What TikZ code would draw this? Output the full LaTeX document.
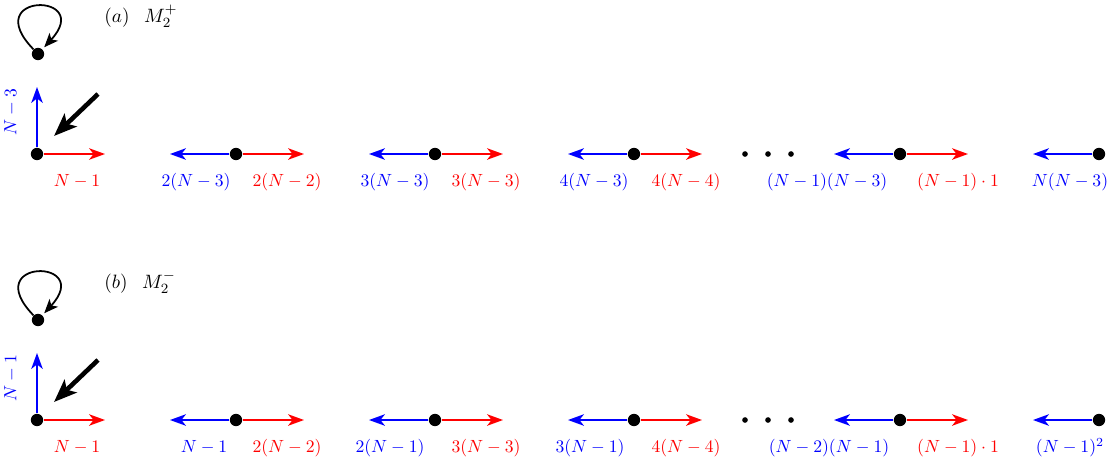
\documentclass[tikz,border=0pt]{standalone}
\usetikzlibrary{arrows.meta}
\begin{document}
\begin{tikzpicture}[x=0.567pt,y=-0.567pt,
  dot/.style={circle,fill=black,inner sep=0pt,minimum size=7pt},
  sdot/.style={circle,fill=black,inner sep=0pt,minimum size=3.2pt},
  rarr/.style={red,line width=1.1pt,-{Stealth[length=9pt,width=6.5pt,inset=2.5pt]}},
  barr/.style={blue,line width=1.1pt,-{Stealth[length=9pt,width=6.5pt,inset=2.5pt]}},
  bigarr/.style={line width=2.6pt,-{Stealth[length=13pt,width=10pt,inset=3pt]}},
  looparr/.style={line width=1pt,shorten >=1.5pt,-{Stealth[length=8pt,width=6.5pt,inset=2pt]}},
  lab/.style={inner sep=0pt,text height=7.5pt,text depth=2.5pt},
  rlab/.style={lab,red},
  blab/.style={lab,blue},
  ttl/.style={inner sep=0pt,anchor=base west,font=\fontsize{11}{13}\selectfont}]
\useasboundingbox (0,0) rectangle (1112,464);

% ---------- row (a) ----------
\node[ttl] (ta) at (104,22) {$(a)\hspace{0.75em}M_2^+$};
\node[dot] (aL) at (38,54) {};
\draw[looparr] (aL) .. controls (-22,-8) and (95,-8) .. (aL);
\coordinate (aBs) at (98,94);
\coordinate (aBt) at (54,136);
\draw[bigarr] (aBs) -- (aBt);

\node[dot] (a0) at (37,154) {};
\coordinate (a0r) at (105,154);
\coordinate (a0u) at (37,87);
\draw[rarr] (a0) -- (a0r);
\draw[barr] (a0) -- (a0u);
\node[blab,rotate=90] (a0ul) at (12,112) {$N-3$};

\node[dot] (a1) at (236,154) {};
\coordinate (a1l) at (170,154);
\coordinate (a1r) at (304,154);
\draw[barr] (a1) -- (a1l);
\draw[rarr] (a1) -- (a1r);

\node[dot] (a2) at (435,154) {};
\coordinate (a2l) at (369,154);
\coordinate (a2r) at (503,154);
\draw[barr] (a2) -- (a2l);
\draw[rarr] (a2) -- (a2r);

\node[dot] (a3) at (634,154) {};
\coordinate (a3l) at (568,154);
\coordinate (a3r) at (702,154);
\draw[barr] (a3) -- (a3l);
\draw[rarr] (a3) -- (a3r);

\node[sdot] (ae1) at (745,154) {};
\node[sdot] (ae2) at (768,154) {};
\node[sdot] (ae3) at (791,154) {};

\node[dot] (a4) at (900,154) {};
\coordinate (a4l) at (834,154);
\coordinate (a4r) at (968,154);
\draw[barr] (a4) -- (a4l);
\draw[rarr] (a4) -- (a4r);

\node[dot] (a5) at (1099,154) {};
\coordinate (a5l) at (1033,154);
\draw[barr] (a5) -- (a5l);

\node[rlab] (la0) at (77,182) {$N-1$};
\node[blab] (la1) at (196,182) {$2(N-3)$};
\node[rlab] (la2) at (287,182) {$2(N-2)$};
\node[blab] (la3) at (395,182) {$3(N-3)$};
\node[rlab] (la4) at (486,182) {$3(N-3)$};
\node[blab] (la5) at (594,182) {$4(N-3)$};
\node[rlab] (la6) at (686,182) {$4(N-4)$};
\node[blab] (la7) at (827,182) {$(N-1)(N-3)$};
\node[rlab] (la8) at (958,182) {$(N-1)\cdot 1$};
\node[blab] (la9) at (1070,182) {$N(N-3)$};

% ---------- row (b) ----------
\node[ttl] (tb) at (104,288) {$(b)\hspace{0.75em}M_2^-$};
\node[dot] (bL) at (38,320) {};
\draw[looparr] (bL) .. controls (-22,258) and (95,258) .. (bL);
\coordinate (bBs) at (98,360);
\coordinate (bBt) at (54,402);
\draw[bigarr] (bBs) -- (bBt);

\node[dot] (b0) at (37,420) {};
\coordinate (b0r) at (105,420);
\coordinate (b0u) at (37,353);
\draw[rarr] (b0) -- (b0r);
\draw[barr] (b0) -- (b0u);
\node[blab,rotate=90] (b0ul) at (12,378) {$N-1$};

\node[dot] (b1) at (236,420) {};
\coordinate (b1l) at (170,420);
\coordinate (b1r) at (304,420);
\draw[barr] (b1) -- (b1l);
\draw[rarr] (b1) -- (b1r);

\node[dot] (b2) at (435,420) {};
\coordinate (b2l) at (369,420);
\coordinate (b2r) at (503,420);
\draw[barr] (b2) -- (b2l);
\draw[rarr] (b2) -- (b2r);

\node[dot] (b3) at (634,420) {};
\coordinate (b3l) at (568,420);
\coordinate (b3r) at (702,420);
\draw[barr] (b3) -- (b3l);
\draw[rarr] (b3) -- (b3r);

\node[sdot] (be1) at (745,420) {};
\node[sdot] (be2) at (768,420) {};
\node[sdot] (be3) at (791,420) {};

\node[dot] (b4) at (900,420) {};
\coordinate (b4l) at (834,420);
\coordinate (b4r) at (968,420);
\draw[barr] (b4) -- (b4l);
\draw[rarr] (b4) -- (b4r);

\node[dot] (b5) at (1099,420) {};
\coordinate (b5l) at (1033,420);
\draw[barr] (b5) -- (b5l);

\node[rlab] (lb0) at (77,448) {$N-1$};
\node[blab] (lb1) at (204,448) {$N-1$};
\node[rlab] (lb2) at (287,448) {$2(N-2)$};
\node[blab] (lb3) at (390,448) {$2(N-1)$};
\node[rlab] (lb4) at (486,448) {$3(N-3)$};
\node[blab] (lb5) at (590,448) {$3(N-1)$};
\node[rlab] (lb6) at (686,448) {$4(N-4)$};
\node[blab] (lb7) at (829,448) {$(N-2)(N-1)$};
\node[rlab] (lb8) at (958,448) {$(N-1)\cdot 1$};
\node[blab] (lb9) at (1070,448) {$(N-1)^2$};
\end{tikzpicture}
\end{document}
